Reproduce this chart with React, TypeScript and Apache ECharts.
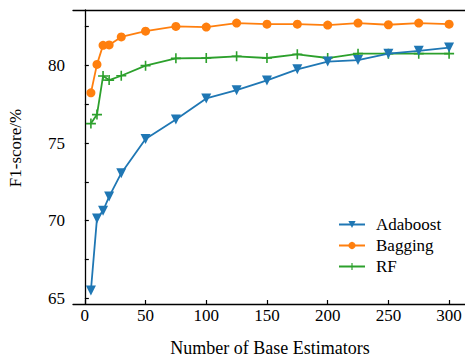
import React, { useEffect, useRef } from "react";
import * as echarts from "echarts";

// Number of base estimators on the x axis
const estimators = [5, 10, 15, 20, 30, 50, 75, 100, 125, 150, 175, 200, 225, 250, 275, 300];

// F1-score (%) per ensemble method
const adaboost = [65.51, 70.15, 70.64, 71.55, 73.06, 75.26, 76.51, 77.87, 78.4, 79.03, 79.74, 80.24, 80.34, 80.75, 80.93, 81.14];
const bagging = [78.23, 80.06, 81.29, 81.31, 81.83, 82.2, 82.5, 82.46, 82.72, 82.65, 82.65, 82.59, 82.72, 82.61, 82.72, 82.65];
const rf = [76.25, 76.83, 79.31, 79.05, 79.33, 79.98, 80.45, 80.47, 80.58, 80.47, 80.71, 80.47, 80.75, 80.75, 80.75, 80.75];

const xTicks = [0, 50, 100, 150, 200, 250, 300];
const yLabels = [65, 70, 75, 80];
const yTicks = [65, 67.5, 70, 72.5, 75, 77.5, 80, 82.5];

const FONT = "Liberation Serif";
const PLUS = "path://M4.2,0H5.8V4.2H10V5.8H5.8V10H4.2V5.8H0V4.2H4.2Z";
const X_MIN = -9.75;
const X_MAX = 314.75;

const pairs = (ys: number[]) => estimators.map((x, i) => [x, ys[i]]);

export default function App() {
  const ref = useRef<HTMLDivElement>(null);

  useEffect(() => {
    if (!ref.current) return;
    const chart = echarts.init(ref.current, undefined, { renderer: "svg" });
    const axisLine = { show: true, lineStyle: { color: "#000", width: 1.3 } };
    const label = { fontFamily: FONT, fontSize: 17, color: "#000" };
    chart.setOption({
      animation: false,
      backgroundColor: "#fff",
      textStyle: { fontFamily: FONT },
      grid: {
        left: 73,
        top: 10,
        width: 394,
        height: 294,
        outerBoundsMode: "none",
        show: false,
      },
      xAxis: [
        {
          type: "value",
          min: X_MIN,
          max: X_MAX,
          name: "Number of Base Estimators",
          nameLocation: "middle",
          nameGap: 35,
          nameTextStyle: { fontFamily: FONT, fontSize: 18, color: "#000" },
          axisLine,
          splitLine: { show: false },
          axisTick: { show: true, inside: true, length: 4, customValues: xTicks, lineStyle: { color: "#000", width: 1.2 } },
          axisLabel: { customValues: xTicks, margin: 3, ...label },
        },
        {
          // top spine of the plot frame
          type: "value",
          position: "top",
          min: X_MIN,
          max: X_MAX,
          axisLine,
          axisTick: { show: false },
          axisLabel: { show: false },
          splitLine: { show: false },
        },
      ],
      yAxis: {
        type: "value",
        min: 64.64,
        max: 83.56,
        axisLine,
        splitLine: { show: false },
        axisTick: { show: true, inside: true, length: 4, customValues: yTicks, lineStyle: { color: "#000", width: 1.2 } },
        axisLabel: { customValues: yLabels, margin: 8, ...label },
      },
      legend: {
        orient: "vertical",
        left: 333,
        top: 211,
        itemWidth: 26,
        itemHeight: 9,
        itemGap: 4,
        textStyle: { ...label, padding: [0, 0, 0, 6] },
        data: ["Adaboost", "Bagging", "RF"],
      },
      graphic: [
        {
          type: "text",
          x: 15,
          y: 148,
          rotation: Math.PI / 2,
          style: {
            text: "F1-score/%",
            font: `17px ${FONT}`,
            fill: "#000",
            textAlign: "center",
            textVerticalAlign: "middle",
          },
        },
      ],
      series: [
        {
          name: "Adaboost",
          type: "line",
          data: pairs(adaboost),
          symbol: "triangle",
          symbolRotate: 180,
          symbolSize: 10,
          lineStyle: { color: "#1f77b4", width: 1.8 },
          itemStyle: { color: "#1f77b4" },
          z: 3,
        },
        {
          name: "Bagging",
          type: "line",
          data: pairs(bagging),
          symbol: "circle",
          symbolSize: 9,
          lineStyle: { color: "#ff7f0e", width: 1.8 },
          itemStyle: { color: "#ff7f0e" },
          z: 2,
        },
        {
          name: "RF",
          type: "line",
          data: pairs(rf),
          symbol: PLUS,
          symbolSize: 10,
          lineStyle: { color: "#2ca02c", width: 1.8 },
          itemStyle: { color: "#2ca02c" },
          z: 1,
        },
      ],
    });
    return () => chart.dispose();
  }, []);

  return (
    <div
      ref={ref}
      style={{ position: "fixed", left: 0, top: 0, width: 475, height: 362, background: "#fff" }}
    />
  );
}
